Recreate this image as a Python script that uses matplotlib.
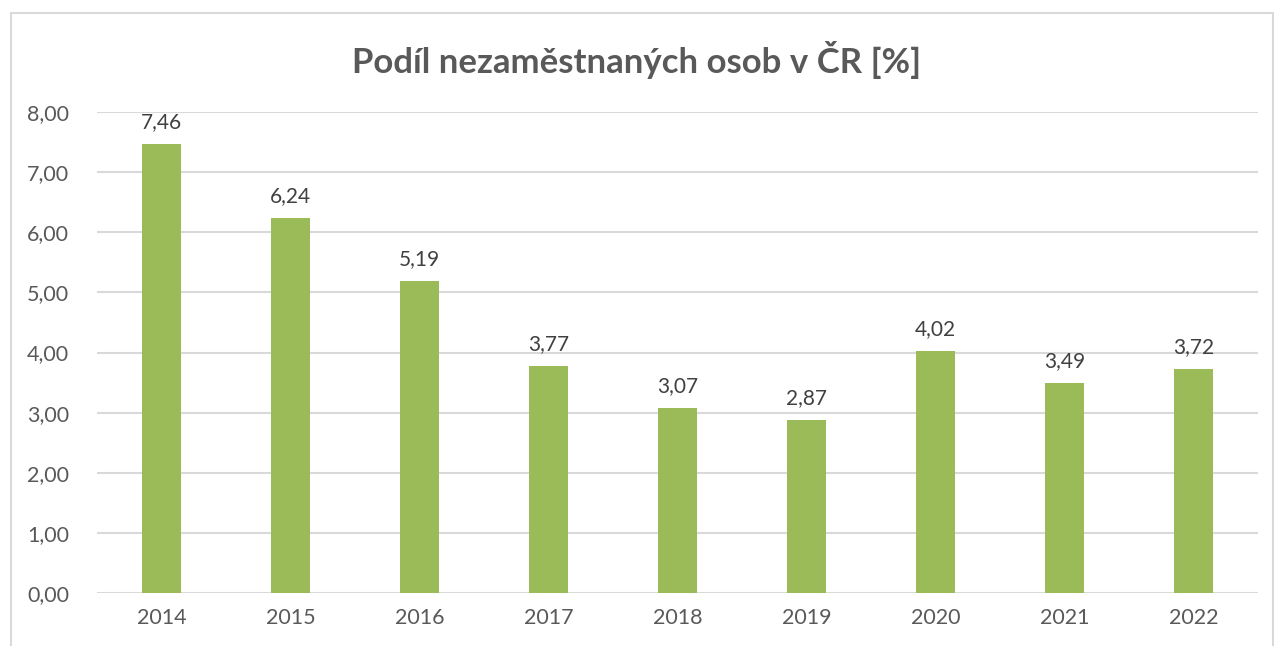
import matplotlib
matplotlib.use("Agg")
import matplotlib.pyplot as plt
from matplotlib.patches import Rectangle

years = ["2014", "2015", "2016", "2017", "2018", "2019", "2020", "2021", "2022"]
values = [7.46, 6.24, 5.19, 3.77, 3.07, 2.87, 4.02, 3.49, 3.72]
yticks = [0, 1, 2, 3, 4, 5, 6, 7, 8]
title = "Podíl nezaměstnaných osob v ČR [%]"

plt.rcParams["font.family"] = ["Lato", "DejaVu Sans"]

W, H = 1274, 646
fig = plt.figure(figsize=(W / 100, H / 100), dpi=100)
ax = fig.add_axes([97 / W, 1 - 593 / H, (1258 - 97) / W, (593 - 112) / H])

x = range(len(years))
ax.bar(x, values, width=0.31, color="#9bbb59", zorder=3)
for xi, v in zip(x, values):
    ax.text(xi, v + 0.2, f"{v:.2f}".replace(".", ","), ha="center", va="bottom",
            fontsize=15, color="#404040")

ax.set_xlim(-0.5, len(years) - 0.5)
ax.set_ylim(0, 8)
ax.set_yticks(yticks)
ax.set_yticklabels([f"{t:.2f}".replace(".", ",") for t in yticks])
ax.set_xticks(list(x))
ax.set_xticklabels(years)
ax.tick_params(axis="both", length=0, labelsize=15.5, colors="#595959")
ax.tick_params(axis="y", pad=20)
ax.tick_params(axis="x", pad=11)
ax.grid(axis="y", color="#d9d9d9", lw=1.5, zorder=0)
for s in ax.spines.values():
    s.set_visible(False)

fig.text(0.5, 1 - 60 / H, title, ha="center", va="center", fontsize=25,
         fontweight="bold", color="#595959")

fig.patches.append(Rectangle((10.5 / W, -0.1), (1273 - 10.5) / W, 1.1 - 12.5 / H,
                             transform=fig.transFigure, fill=False,
                             edgecolor="#d9d9d9", lw=1.5))

fig.savefig("out.png", facecolor="white")
